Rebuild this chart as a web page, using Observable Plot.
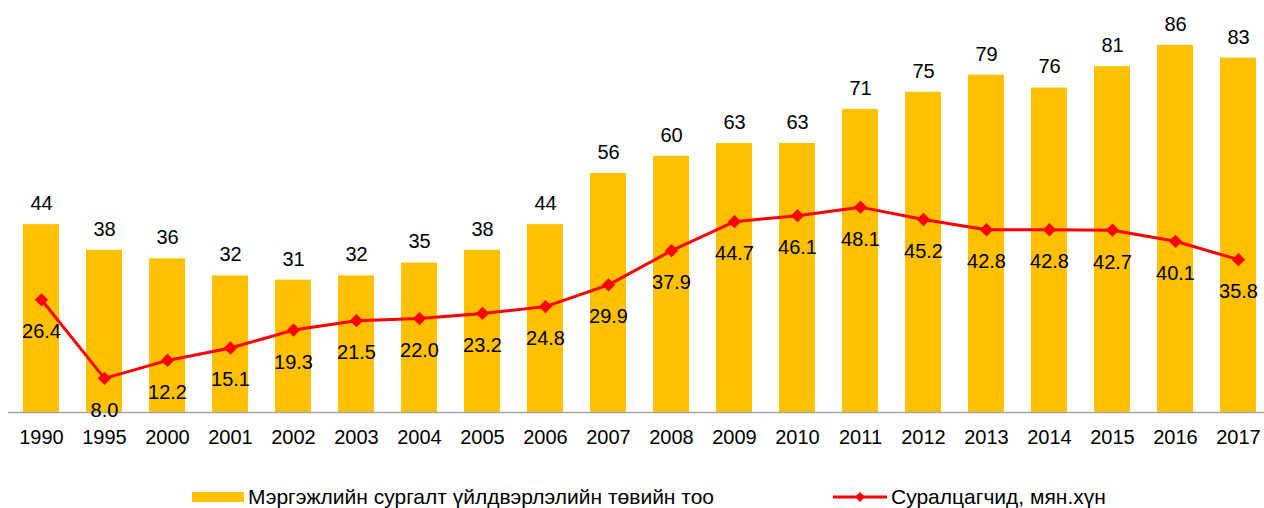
<!DOCTYPE html>
<html>
<head>
<meta charset="utf-8">
<script src="https://cdn.jsdelivr.net/npm/d3@7"></script>
<script src="https://cdn.jsdelivr.net/npm/@observablehq/plot@0.6"></script>
<style>
  body { margin: 0; background: #fff; font-family: "Liberation Sans", Arial, sans-serif; }
  #chart svg { display: block; overflow: visible; }
  .legend { position: relative; height: 48px; font-size: 21px; color: #000; }
  .item { position: absolute; top: 25px; height: 24px; line-height: 24px; display: flex; align-items: center; }
  .item svg { display: block; }
</style>
</head>
<body>
<div id="chart"></div>
<div class="legend">
  <div class="item" style="left:192px"><svg width="56" height="24"><rect x="0" y="7" width="52" height="10" fill="#FFC000"/></svg><span>Мэргэжлийн сургалт үйлдвэрлэлийн төвийн тоо</span></div>
  <div class="item" style="left:833px"><svg width="58" height="24"><line x1="0" y1="12" x2="54" y2="12" stroke="#FF0000" stroke-width="3"/><path d="M27,7 L32,12 L27,17 L22,12 Z" fill="#FF0000"/></svg><span>Суралцагчид, мян.хүн</span></div>
</div>
<script>
const years = ["1990","1995","2000","2001","2002","2003","2004","2005","2006","2007","2008","2009","2010","2011","2012","2013","2014","2015","2016","2017"];
const centers = [44,38,36,32,31,32,35,38,44,56,60,63,63,71,75,79,76,81,86,83];
const students = [26.4,8.0,12.2,15.1,19.3,21.5,22.0,23.2,24.8,29.9,37.9,44.7,46.1,48.1,45.2,42.8,42.8,42.7,40.1,35.8];

const data = years.map((y, i) => ({year: y, centers: centers[i], students: students[i]}));

const chart = Plot.plot({
  width: 1264,
  height: 460,
  marginLeft: 21,
  marginRight: 7,
  marginTop: 0,
  marginBottom: 48,
  style: {fontFamily: "Liberation Sans, Arial, sans-serif", fontSize: "20px", color: "#000", background: "#fff"},
  x: {domain: years, paddingInner: 0.43, paddingOuter: 0, label: null},
  y: {domain: [0, 96.5], axis: null},
  marks: [
    Plot.barY(data, {x: "year", y: "centers", fill: "#FFC000"}),
    Plot.ruleY([0], {stroke: "#A6A6A6", strokeWidth: 1.5, insetLeft: -13, insetRight: -7}),
    Plot.text(data, {x: "year", y: "centers", text: d => String(d.centers), dy: -21, fontSize: 20, fill: "#000"}),
    Plot.line(data, {x: "year", y: "students", stroke: "#FF0000", strokeWidth: 3}),
    Plot.dot(data, {x: "year", y: "students", symbol: "diamond2", r: 6, fill: "#FF0000", stroke: "none"}),
    Plot.text(data, {x: "year", y: "students", text: d => d.students.toFixed(1), dy: 32, fontSize: 20, fill: "#000"}),
    Plot.axisX({tickSize: 0, tickPadding: 17, fontSize: 20, label: null})
  ]
});
document.getElementById("chart").appendChild(chart);
</script>
</body>
</html>
